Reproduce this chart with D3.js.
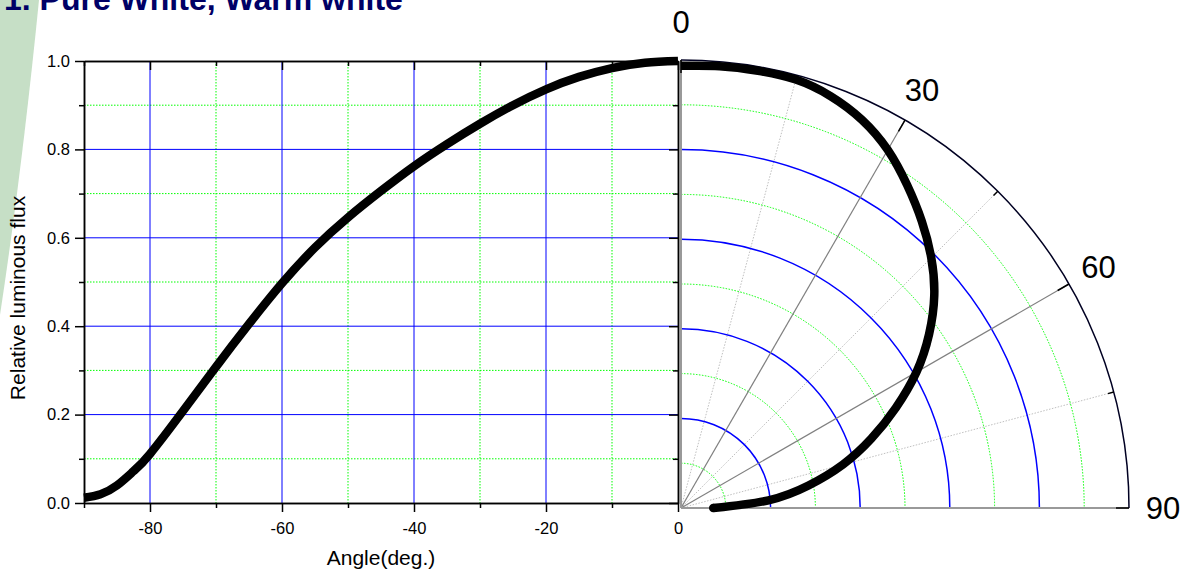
<!DOCTYPE html>
<html><head><meta charset="utf-8">
<script src="https://cdn.jsdelivr.net/npm/d3@7"></script>
<style>
html,body{margin:0;padding:0;background:#fff;}
svg{display:block;font-family:"Liberation Sans",Arial,Helvetica,sans-serif;}
</style></head><body>
<svg id="chart" width="1189" height="579"></svg>
<script>
// ---------- data ----------
const titleText = "1. Pure White, Warm white";
const xTitle = "Angle(deg.)";
const yTitle = "Relative luminous flux";
const leftAngles = [-90,-87.5,-85,-82.5,-80,-75,-70,-65,-60,-55,-50,-45,-40,-35,-30,-25,-20,-15,-10,-5,0];
const leftFlux   = [0.012,0.020,0.040,0.072,0.111,0.208,0.308,0.405,0.497,0.578,0.646,0.706,0.762,0.812,0.858,0.900,0.936,0.964,0.984,0.996,1.000];
const polarAngles = [0,5,10,15,20,25,30,35,40,45,50,55,60,65,70,75,80,85,90];
const polarFlux   = [0.987,0.990,0.991,0.990,0.978,0.956,0.923,0.880,0.836,0.790,0.738,0.676,0.607,0.529,0.452,0.374,0.289,0.196,0.072];
const xMajorTicks = [-80,-60,-40,-20,0];
const xMinorTicks = [-90,-70,-50,-30,-10];
const yMajorTicks = [0,0.2,0.4,0.6,0.8,1.0];
const yMinorTicks = [0.1,0.3,0.5,0.7,0.9];
const polarMajorRings = [0.2,0.4,0.6,0.8];
const polarMinorRings = [0.1,0.3,0.5,0.7,0.9];
const polarMajorSpokes = [30,60];
const polarMinorSpokes = [15,45,75];
const polarTickAngles = [0,15,30,45,60,75,90];
const polarLabels = [0,30,60,90];

// ---------- layout ----------
const svg = d3.select("#chart");
const M = {left:84, right:678, top:61, bottom:503};
const x = d3.scaleLinear().domain([-90,0]).range([M.left, M.right]);
const y = d3.scaleLinear().domain([0,1]).range([M.bottom, M.top]);

// decorative slide band
svg.append("path").attr("d","M0,0 L39,0 Q22,170 0,315 Z").attr("fill","#c6dfc6");

// title (clipped at top, as in the source slide)
svg.append("text").attr("x",4).attr("y",10)
  .attr("font-size",32).attr("font-weight","bold").attr("fill","#000066")
  .text(titleText);

// ---------- left cartesian plot ----------
const grid = svg.append("g");
grid.selectAll(".gxm").data(xMinorTicks.filter(d=>d>-90)).enter().append("line")
  .attr("x1",d=>x(d)).attr("x2",d=>x(d)).attr("y1",M.top).attr("y2",M.bottom)
  .attr("stroke","#00ff00").attr("stroke-width",1).attr("stroke-dasharray","1.5,1.5");
grid.selectAll(".gym").data(yMinorTicks).enter().append("line")
  .attr("x1",M.left).attr("x2",M.right).attr("y1",d=>y(d)).attr("y2",d=>y(d))
  .attr("stroke","#00ff00").attr("stroke-width",1).attr("stroke-dasharray","1.5,1.5");
grid.selectAll(".gxM").data(xMajorTicks.filter(d=>d<0)).enter().append("line")
  .attr("x1",d=>x(d)).attr("x2",d=>x(d)).attr("y1",M.top).attr("y2",M.bottom)
  .attr("stroke","#0000ff").attr("stroke-width",1);
grid.selectAll(".gyM").data(yMajorTicks.filter(d=>d>0&&d<1)).enter().append("line")
  .attr("x1",M.left).attr("x2",M.right).attr("y1",d=>y(d)).attr("y2",d=>y(d))
  .attr("stroke","#0000ff").attr("stroke-width",1);

const leftLine = d3.line().x(d=>x(d[0])).y(d=>y(d[1])).curve(d3.curveNatural);
svg.append("path").datum(leftAngles.map((a,i)=>[a,leftFlux[i]]))
  .attr("d",leftLine).attr("fill","none").attr("stroke","#000")
  .attr("stroke-width",8.5).attr("stroke-linejoin","round").attr("stroke-linecap","butt");

function styleAxis(g){
  g.attr("font-family",null).attr("font-size",null);
  g.selectAll(".domain").attr("stroke","#000").attr("stroke-width",1.5);
  g.selectAll(".tick line").attr("stroke","#000").attr("stroke-width",1.5);
  g.selectAll(".tick text").attr("fill","#000").attr("font-size",16.5);
}
const fx = d=>String(d);
const fy = d3.format(".1f");
styleAxis(svg.append("g").attr("transform",`translate(0,${M.bottom})`)
  .call(d3.axisBottom(x).tickValues(xMajorTicks).tickSize(9).tickSizeOuter(0).tickPadding(10).tickFormat(fx)));
styleAxis(svg.append("g").attr("transform",`translate(0,${M.bottom})`)
  .call(d3.axisBottom(x).tickValues(xMinorTicks).tickSize(5).tickSizeOuter(0).tickFormat("")));
styleAxis(svg.append("g").attr("transform",`translate(0,${M.top})`)
  .call(d3.axisTop(x).tickValues(xMajorTicks).tickSize(-9).tickSizeOuter(0).tickFormat("")));
styleAxis(svg.append("g").attr("transform",`translate(0,${M.top})`)
  .call(d3.axisTop(x).tickValues(xMinorTicks).tickSize(-5).tickSizeOuter(0).tickFormat("")));
styleAxis(svg.append("g").attr("transform",`translate(${M.left},0)`)
  .call(d3.axisLeft(y).tickValues(yMajorTicks).tickSize(9).tickSizeOuter(0).tickPadding(5).tickFormat(fy)));
styleAxis(svg.append("g").attr("transform",`translate(${M.left},0)`)
  .call(d3.axisLeft(y).tickValues(yMinorTicks).tickSize(5).tickSizeOuter(0).tickFormat("")));
styleAxis(svg.append("g").attr("transform",`translate(${M.right},0)`)
  .call(d3.axisRight(y).tickValues(yMajorTicks).tickSize(-9).tickSizeOuter(0).tickFormat("")));
styleAxis(svg.append("g").attr("transform",`translate(${M.right},0)`)
  .call(d3.axisRight(y).tickValues(yMinorTicks).tickSize(-5).tickSizeOuter(0).tickFormat("")));

svg.append("text").attr("x",(M.left+M.right)/2).attr("y",565)
  .attr("text-anchor","middle").attr("font-size",21).attr("fill","#000").text(xTitle);
svg.append("text").attr("transform","translate(25,298) rotate(-90)")
  .attr("text-anchor","middle").attr("font-size",21).attr("fill","#000").text(yTitle);

// ---------- polar plot ----------
const PC = {x:681, y:508};
const r = d3.scaleLinear().domain([0,1]).range([0,448]);
const rad = d=>d*Math.PI/180;
const pg = svg.append("g").attr("transform",`translate(${PC.x},${PC.y})`);
function ring(rr){ const p=d3.path(); p.moveTo(0,-rr); p.arc(0,0,rr,-Math.PI/2,0); return p.toString(); }
const px = (a,rr)=>rr*Math.sin(rad(a));
const py = (a,rr)=>-rr*Math.cos(rad(a));

pg.selectAll(".sm").data(polarMinorSpokes).enter().append("line")
  .attr("x1",0).attr("y1",0).attr("x2",d=>px(d,r(1))).attr("y2",d=>py(d,r(1)))
  .attr("stroke","#c0c0c0").attr("stroke-width",1).attr("stroke-dasharray","1.5,1.5");
pg.selectAll(".rm").data(polarMinorRings).enter().append("path")
  .attr("d",d=>ring(r(d))).attr("fill","none")
  .attr("stroke","#00ff00").attr("stroke-width",1).attr("stroke-dasharray","1.5,1.5");
pg.selectAll(".rM").data(polarMajorRings).enter().append("path")
  .attr("d",d=>ring(r(d))).attr("fill","none")
  .attr("stroke","#0000ff").attr("stroke-width",1.5);
pg.selectAll(".sM").data(polarMajorSpokes).enter().append("line")
  .attr("x1",0).attr("y1",0).attr("x2",d=>px(d,r(1))).attr("y2",d=>py(d,r(1)))
  .attr("stroke","#808080").attr("stroke-width",1.2);
pg.selectAll(".ax").data([0,90]).enter().append("line")
  .attr("x1",0).attr("y1",0).attr("x2",d=>px(d,r(1))).attr("y2",d=>py(d,r(1)))
  .attr("stroke","#999999").attr("stroke-width",2);
pg.append("path").attr("d",ring(r(1))).attr("fill","none")
  .attr("stroke","#000022").attr("stroke-width",1.5);
pg.selectAll(".pt").data(polarTickAngles).enter().append("line")
  .attr("x1",d=>px(d,r(1))).attr("y1",d=>py(d,r(1)))
  .attr("x2",d=>px(d,r(1)-(d%30===0?13:6))).attr("y2",d=>py(d,r(1)-(d%30===0?13:6)))
  .attr("stroke","#000").attr("stroke-width",1.5);

const polarData = polarAngles.map((a,i)=>[a,polarFlux[i]]);
const polarLine = d3.lineRadial().angle(d=>rad(d[0])).radius(d=>r(d[1])).curve(d3.curveNatural);
pg.append("path").datum(polarData).attr("d",polarLine)
  .attr("fill","none").attr("stroke","#000").attr("stroke-width",8.5)
  .attr("stroke-linejoin","round").attr("stroke-linecap","butt");
const last = polarData[polarData.length-1];
pg.append("circle").attr("cx",px(last[0],r(last[1]))).attr("cy",py(last[0],r(last[1]))).attr("r",4.25).attr("fill","#000");

pg.selectAll(".pl").data(polarLabels).enter().append("text")
  .attr("x",d=>px(d,r(1)+34)).attr("y",d=>py(d,r(1)+34) - (d===0?4:0))
  .attr("text-anchor","middle").attr("dominant-baseline","central")
  .attr("font-size",31).attr("fill","#000").text(d=>d);
</script>
</body></html>
